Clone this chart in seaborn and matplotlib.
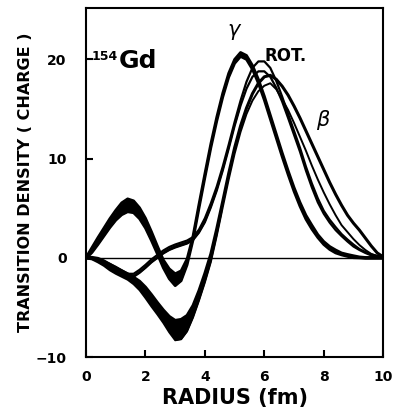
#!/usr/bin/env python3

import matplotlib

matplotlib.use("Agg")
import matplotlib.pyplot as plt
import numpy as np
import pandas as pd
import seaborn as sns

# radius grid (fm)
radius = [0.0, 0.2, 0.4, 0.6, 0.8, 1.0, 1.2, 1.4, 1.6, 1.8,
          2.0, 2.2, 2.4, 2.6, 2.8, 3.0, 3.2, 3.4, 3.6, 3.8,
          4.0, 4.2, 4.4, 4.6, 4.8, 5.0, 5.2, 5.4, 5.6, 5.8,
          6.0, 6.2, 6.4, 6.6, 6.8, 7.0, 7.2, 7.4, 7.6, 7.8,
          8.0, 8.2, 8.4, 8.6, 8.8, 9.0, 9.2, 9.4, 9.6, 9.8, 10.0]

# gamma-vibration transition density (band centre and half width)
gamma_mid = [0.0, 0.8, 1.7, 2.6, 3.5, 4.3, 4.95, 5.3, 5.15, 4.5,
             3.5, 2.2, 0.8, -0.6, -1.6, -2.2, -1.8, -0.4, 2.0, 5.2,
             8.3, 11.3, 14.0, 16.4, 18.4, 19.8, 20.5, 20.2, 19.2, 17.8,
             16.1, 14.2, 12.3, 10.4, 8.6, 6.9, 5.4, 4.1, 3.1, 2.2,
             1.5, 1.0, 0.65, 0.4, 0.25, 0.12, 0.05, 0.0, 0.0, 0.0, 0.0]
gamma_half = [0.05, 0.25, 0.35, 0.4, 0.45, 0.5, 0.6, 0.65, 0.6, 0.55,
              0.5, 0.45, 0.4, 0.4, 0.5, 0.6, 0.5, 0.3, 0.2, 0.2,
              0.2, 0.2, 0.2, 0.2, 0.2, 0.2, 0.2, 0.2, 0.2, 0.2,
              0.2, 0.2, 0.2, 0.2, 0.2, 0.2, 0.2, 0.2, 0.2, 0.15,
              0.15, 0.15, 0.15, 0.1, 0.1, 0.1, 0.05, 0.05, 0.05, 0.05, 0.05]

# rotational transition density
rot_mid = [0.0, -0.05, -0.2, -0.45, -0.75, -1.05, -1.4, -1.75, -1.75, -1.35,
           -0.85, -0.3, 0.15, 0.6, 0.95, 1.2, 1.4, 1.6, 1.95, 2.7,
           3.8, 5.3, 7.0, 9.0, 11.2, 13.5, 15.6, 17.4, 18.7, 19.3,
           19.3, 18.7, 17.5, 16.0, 14.3, 12.6, 10.9, 9.0, 7.3, 5.8,
           4.6, 3.7, 2.95, 2.3, 1.75, 1.25, 0.85, 0.55, 0.3, 0.15, 0.05]
rot_half = [0.05, 0.05, 0.1, 0.1, 0.15, 0.15, 0.15, 0.15, 0.15, 0.15,
            0.15, 0.15, 0.15, 0.15, 0.15, 0.15, 0.15, 0.15, 0.15, 0.15,
            0.2, 0.2, 0.2, 0.2, 0.2, 0.2, 0.25, 0.35, 0.45, 0.5,
            0.5, 0.45, 0.35, 0.25, 0.2, 0.2, 0.2, 0.2, 0.2, 0.2,
            0.15, 0.15, 0.15, 0.1, 0.1, 0.1, 0.05, 0.05, 0.05, 0.05, 0.05]

# beta-vibration transition density
beta_mid = [0.0, -0.05, -0.25, -0.55, -0.95, -1.3, -1.6, -1.9, -2.3, -2.8,
            -3.5, -4.3, -5.1, -5.9, -6.7, -7.3, -7.2, -6.6, -5.4, -3.8,
            -2.0, 0.0, 2.6, 5.4, 8.2, 10.8, 13.0, 14.8, 16.2, 17.2,
            17.8, 18.0, 17.5, 16.65, 15.65, 14.45, 13.15, 11.8, 10.4, 9.05,
            7.75, 6.5, 5.35, 4.3, 3.45, 2.7, 2.05, 1.4, 0.8, 0.35, 0.08]
beta_half = [0.05, 0.1, 0.2, 0.25, 0.3, 0.3, 0.3, 0.3, 0.35, 0.45,
             0.55, 0.6, 0.6, 0.65, 0.8, 1.0, 1.0, 0.8, 0.6, 0.5,
             0.45, 0.4, 0.35, 0.3, 0.3, 0.3, 0.3, 0.3, 0.35, 0.4,
             0.45, 0.4, 0.5, 0.65, 0.75, 0.85, 0.95, 1.0, 1.1, 1.15,
             1.15, 1.1, 1.05, 1.0, 0.85, 0.8, 0.75, 0.6, 0.4, 0.15, 0.03]


def main():
    sns.set_style("ticks")
    plt.rcParams["font.family"] = ["DejaVu Sans"]
    plt.rcParams["text.color"] = "black"
    plt.rcParams["axes.labelcolor"] = "black"

    r = np.array(radius)
    # name -> (centre, half width, solid fill up to this radius)
    bands = {
        "gamma": (np.array(gamma_mid), np.array(gamma_half), 10.0),
        "rot": (np.array(rot_mid), np.array(rot_half), 5.2),
        "beta": (np.array(beta_mid), np.array(beta_half), 4.4),
    }
    edge_lw = {"gamma_lo": 2.0, "gamma_hi": 2.0, "rot_lo": 1.6,
               "rot_hi": 1.6, "beta_lo": 1.4, "beta_hi": 2.2}

    rows = []
    for name, (mid, half, _) in bands.items():
        for edge, vals in (("lo", mid - half), ("hi", mid + half)):
            rows.append(pd.DataFrame({"radius": r, "density": vals,
                                      "edge": f"{name}_{edge}"}))
    data = pd.concat(rows, ignore_index=True)

    fig = plt.figure(figsize=(3.93, 4.11), dpi=100)
    ax = fig.add_axes([0.219, 0.131, 0.756, 0.85])

    ax.axhline(0, color="black", lw=1.0, zorder=1)
    for name, (mid, half, fill_to) in bands.items():
        ax.fill_between(r, mid - half, mid + half, where=r <= fill_to,
                        color="black", lw=0, interpolate=True, zorder=2)
    for edge, sub in data.groupby("edge", sort=False):
        sns.lineplot(data=sub, x="radius", y="density", estimator=None,
                     color="black", lw=edge_lw[edge], ax=ax, zorder=3,
                     solid_joinstyle="round", solid_capstyle="round")

    ax.set_xlim(0, 10)
    ax.set_ylim(-10, 25.2)
    ax.set_xticks([0, 2, 4, 6, 8, 10])
    ax.set_yticks([-10, 0, 10, 20])
    ax.set_xticklabels(["0", "2", "4", "6", "8", "10"])
    ax.set_yticklabels(["\u221210", "0", "10", "20"])
    ax.tick_params(direction="in", length=5, width=1.5, labelsize=10,
                   colors="black")
    ax.tick_params(axis="y", pad=14)
    ax.tick_params(axis="x", pad=9)
    for lab in ax.get_xticklabels() + ax.get_yticklabels():
        lab.set_fontweight("bold")
    for sp in ax.spines.values():
        sp.set_linewidth(1.5)
        sp.set_color("black")

    ax.set_xlabel("RADIUS (fm)", fontsize=15, fontweight="bold", labelpad=3)
    ax.set_ylabel("TRANSITION DENSITY ( CHARGE )", fontsize=11.5,
                  fontweight="bold", labelpad=2)

    ax.text(0.2, 19.9, "154", fontsize=9, fontweight="bold",
            ha="left", va="baseline")
    ax.text(1.1, 19.1, "Gd", fontsize=18, fontweight="bold",
            ha="left", va="baseline")
    ax.text(4.75, 22.4, "\u03b3", fontsize=15, fontstyle="italic",
            ha="left", va="baseline")
    ax.text(6.0, 19.8, "ROT.", fontsize=12, fontweight="bold",
            ha="left", va="baseline")
    ax.text(7.75, 13.3, "\u03b2", fontsize=15, fontstyle="italic",
            ha="left", va="baseline")

    fig.savefig("out.png", dpi=100)


if __name__ == "__main__":
    main()
